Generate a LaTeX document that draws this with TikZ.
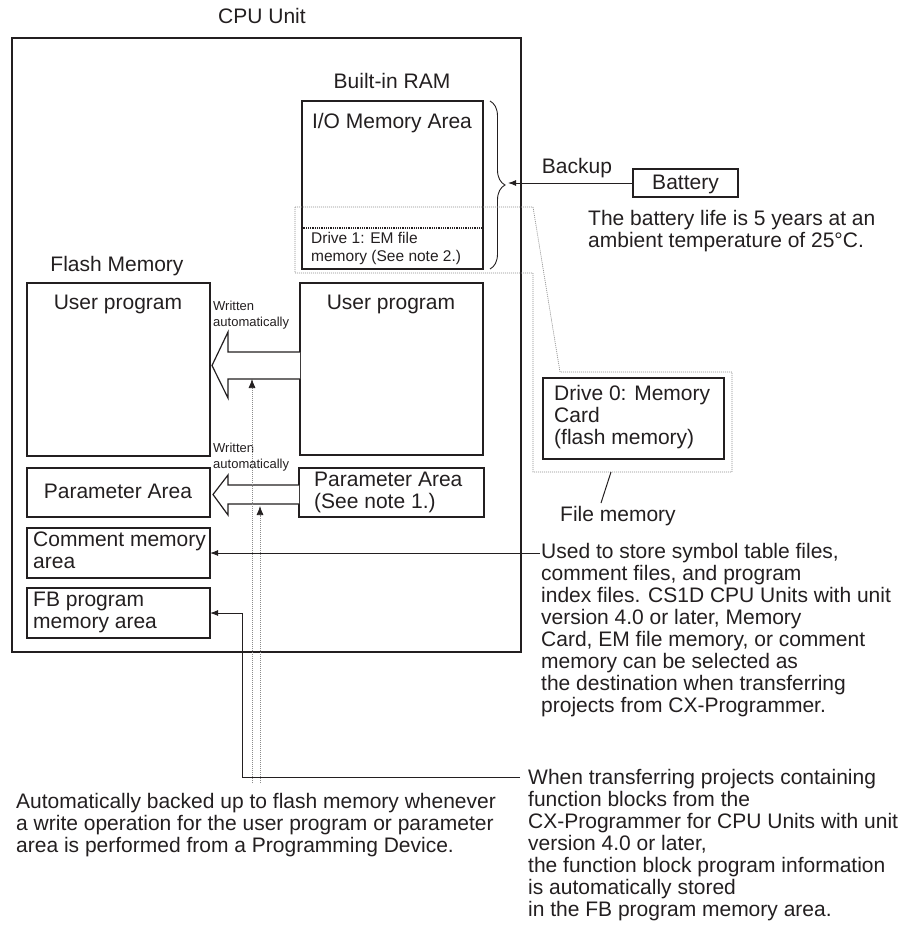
\documentclass[tikz,border=0pt]{standalone}
\usepackage{fontspec}
\setmainfont{Liberation Sans}
\usetikzlibrary{arrows.meta,decorations.pathreplacing}
\definecolor{ink}{HTML}{231F20}
\definecolor{dotgray}{HTML}{8C8C8C}
\begin{document}
\begin{tikzpicture}[x=1pt,y=-1pt,
  box/.style={draw=ink, line width=1.4pt, inner sep=0pt, outer sep=0pt},
  big/.style={font=\fontsize{21}{22}\selectfont, inner sep=0pt, text=ink},
  small/.style={font=\fontsize{15.5}{18}\selectfont, inner sep=0pt, text=ink},
  tiny/.style={font=\fontsize{13}{16}\selectfont, inner sep=0pt, text=ink},
  conn/.style={draw=ink, line width=1pt, -{Latex[length=8pt,width=6pt]}},
  dotline/.style={draw=dotgray, line width=0.7pt, dash pattern=on 1pt off 1pt},
  dotarrow/.style={dotline, -{Latex[length=9pt,width=7pt,color=ink]}},
  hollow/.style={draw=ink, fill=white, line width=1.2pt, line join=miter}
]
\useasboundingbox (0,0) rectangle (909,926);

% ---------- boxes ----------
\node[box, minimum width=509pt, minimum height=614pt] (cpu) at (266.5,345) {};
\node[box, minimum width=181pt, minimum height=168pt] (io) at (392.5,185) {};
\node[box, draw=ink, line width=1.2pt, dash pattern=on 1pt off 0.8pt, minimum width=181pt, minimum height=41pt] (drv1) at (392.5,248.5) {};
\node[box, minimum width=183pt, minimum height=173pt] (fup) at (118.5,369.5) {};
\node[box, minimum width=183pt, minimum height=172pt] (rup) at (391.5,369) {};
\node[box, minimum width=183pt, minimum height=49pt] (fpar) at (118.5,492.5) {};
\node[box, minimum width=185pt, minimum height=49pt] (rpar) at (391.5,492.5) {};
\node[box, minimum width=183pt, minimum height=50pt] (cmt) at (118.5,553) {};
\node[box, minimum width=183pt, minimum height=50pt] (fb) at (118.5,613) {};
\node[box, minimum width=105pt, minimum height=28pt] (bat) at (685.5,183) {};
\node[box, minimum width=181pt, minimum height=81pt] (drv0) at (633.5,418.5) {};

% ---------- labels ----------
\node[big, anchor=base] (tcpu) at (262,23.5) {CPU Unit};
\node[big, anchor=base] (tram) at (392,88.5) {Built-in RAM};
\node[big, anchor=base] (tio) at (392,128.5) {I/O Memory Area};
\node[small, anchor=north west, align=left] (tdrv1) at (311,232.5) {Drive 1: EM file\\memory (See note 2.)};
\node[big, anchor=base] (tflash) at (117,271.5) {Flash Memory};
\node[big, anchor=base] (tfup) at (118,309.5) {User program};
\node[big, anchor=base] (trup) at (391,309.5) {User program};
\node[big, anchor=base] (tfpar) at (118,498.5) {Parameter Area};
\node[big, anchor=north west, align=left] (trpar) at (314,472) {Parameter Area\\(See note 1.)};
\node[big, anchor=north west, align=left] (tcmt) at (33,532) {Comment memory\\area};
\node[big, anchor=north west, align=left] (tfb) at (33,592) {FB program\\memory area};
\node[tiny, anchor=north west, align=left] (tw1) at (213,300.5) {Written\\automatically};
\node[tiny, anchor=north west, align=left] (tw2) at (213,442.5) {Written\\automatically};
\node[big, anchor=base] (tbackup) at (577,173.5) {Backup};
\node[big, anchor=base] (tbat) at (685.5,189.5) {Battery};
\node[big, anchor=north west, align=left] (tlife) at (588,210) {The battery life is 5 years at an\\ambient temperature of 25\textdegree C.};
\node[big, anchor=north west, align=left] (tdrv0) at (554,385) {Drive 0: Memory\\Card\\(flash memory)};
\node[big, anchor=base west] (tfile) at (560,521.5) {File memory};
\node[big, anchor=north west, align=left] (tnote1) at (541,543) {Used to store symbol table files,\\comment files, and program\\index files. CS1D CPU Units with unit\\version 4.0 or later, Memory\\Card, EM file memory, or comment\\memory can be selected as\\the destination when transferring\\projects from CX-Programmer.};
\node[big, anchor=north west, align=left] (tnote2) at (528,769) {When transferring projects containing\\function blocks from the\\CX-Programmer for CPU Units with unit\\version 4.0 or later,\\the function block program information\\is automatically stored\\in the FB program memory area.};
\node[big, anchor=north west, align=left] (tnote3) at (16,793) {Automatically backed up to flash memory whenever\\a write operation for the user program or parameter\\area is performed from a Programming Device.};

% ---------- brace and battery arrow ----------
\coordinate (brtop) at (490,101);
\coordinate (brbot) at (490,269);
\coordinate (brtip) at (508,183);
\draw[ink, line width=0.9pt, decorate, decoration={brace, amplitude=15pt}] (brtop) -- (brbot);
\draw[conn] (bat.west) -- (brtip);

% ---------- file memory callout ----------
\draw[dotline] (295,207) -- (533,207) -- (560,372) -- (732,372) -- (732,472)
  -- (533,472) -- (533,273) -- (295,273) -- cycle;
\coordinate (lead1) at (611,472);
\coordinate (lead2) at (601,503);
\draw[ink, line width=1pt] (lead1) -- (lead2);

% ---------- hollow transfer arrows ----------
\draw[hollow] (300,352) -- (228,352) -- (228,332) -- (212,365.5) -- (228,398) -- (228,379) -- (300,379);
\draw[hollow] (299,485) -- (228,485) -- (228,475) -- (213,494.5) -- (228,515) -- (228,504) -- (299,504);

% ---------- dotted backup arrows ----------
\coordinate (d1s) at (252,783);
\coordinate (d1e) at (252,379);
\coordinate (d2s) at (260,783);
\coordinate (d2e) at (260,506);
\draw[dotarrow] (d1s) -- (d1e);
\draw[dotarrow] (d2s) -- (d2e);

% ---------- note connectors ----------
\coordinate (n1) at (540,553);
\draw[conn] (n1) -- (cmt.east |- n1);
\coordinate (n2) at (520,777);
\coordinate (n2c) at (242,777);
\draw[conn] (n2) -- (n2c) |- (fb.east);
\end{tikzpicture}
\end{document}
